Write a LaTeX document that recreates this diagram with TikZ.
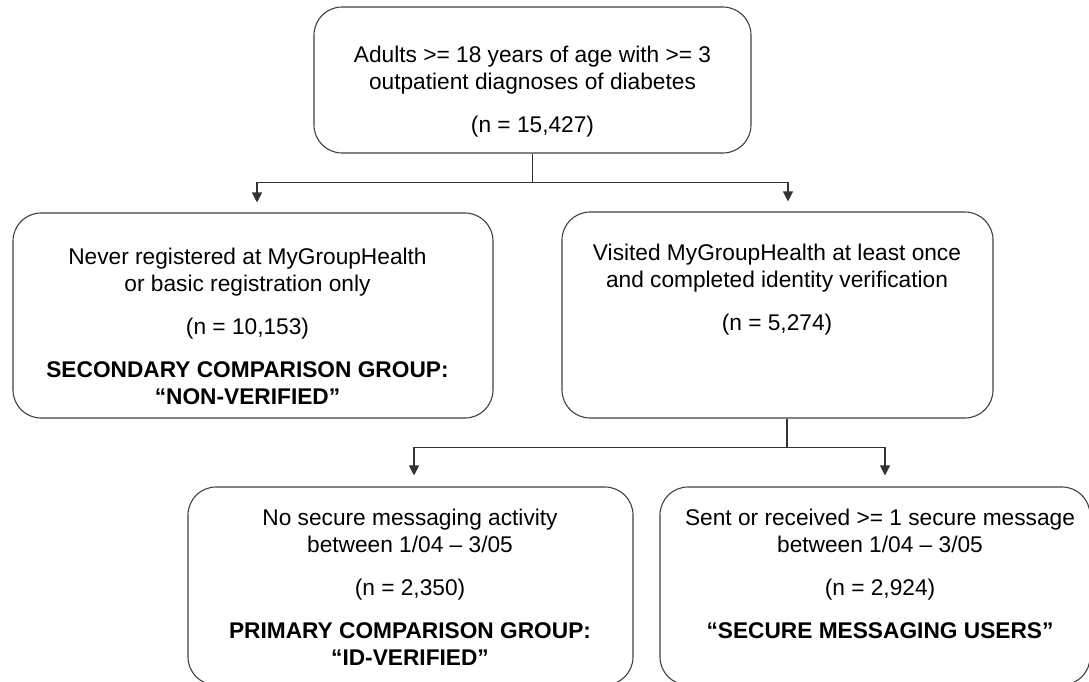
\documentclass[tikz,border=0pt]{standalone}
\usepackage{fontspec}
\setmainfont{Liberation Sans}
\usetikzlibrary{arrows.meta,positioning}
\begin{document}
\begin{tikzpicture}[x=1pt,y=-1pt,
    box/.style={draw=black!75,line width=1.1pt,rounded corners=28pt,inner sep=0pt},
    txt/.style={align=center,font=\fontsize{22.7}{27}\selectfont,inner sep=0pt,anchor=base},
    conn/.style={draw=black!80,line width=1.1pt},
    arr/.style={conn,-{Triangle[length=10pt,width=10pt]}}]
  \useasboundingbox (0,0) rectangle (1089,681);
  \clip (0,0) rectangle (1089,681);
  % boxes
  \node[box,minimum width=437pt,minimum height=146pt] (top) at (532.5,80) {};
  \node[box,minimum width=480pt,minimum height=205pt] (never) at (253,315.5) {};
  \node[box,minimum width=431pt,minimum height=206pt] (visited) at (777.5,315) {};
  \node[box,minimum width=445pt,minimum height=198pt] (nosecure) at (410.5,586) {};
  \node[box,minimum width=430pt,minimum height=198pt] (sent) at (875,586) {};
  % texts (anchored at the baseline of the last line)
  \node[txt] (toptxt) at (532.5,132)
    {Adults >= 18 years of age with >= 3\\ outpatient diagnoses of diabetes\\[16pt] (n = 15,427)};
  \node[txt] (nevertxt) at (247.5,404)
    {Never registered at MyGroupHealth\\ or basic registration only\\[16pt] (n = 10,153)\\[16pt]
     \textbf{SECONDARY COMPARISON GROUP:}\\ \textbf{“NON-VERIFIED”}};
  \node[txt] (visitedtxt) at (777,330)
    {Visited MyGroupHealth at least once\\ and completed identity verification\\[16pt] (n = 5,274)};
  \node[txt] (nosecuretxt) at (410,665)
    {No secure messaging activity\\ between 1/04 – 3/05\\[16pt] (n = 2,350)\\[16pt]
     \textbf{PRIMARY COMPARISON GROUP:}\\ \textbf{“ID-VERIFIED”}};
  \node[txt] (senttxt) at (880,638)
    {Sent or received >= 1 secure message\\ between 1/04 – 3/05\\[16pt] (n = 2,924)\\[16pt]
     \textbf{“SECURE MESSAGING USERS”}};
  % connectors
  \draw[conn] (top.south) -- ++(0,29) coordinate (split1);
  \draw[arr] (split1) -| ([xshift=4pt,yshift=10pt]never.north);
  \draw[arr] (split1) -| ([xshift=10.5pt,yshift=10pt]visited.north);
  \draw[conn] ([xshift=9.5pt]visited.south) -- ++(0,29) coordinate (split2);
  \draw[arr] (split2) -| ([xshift=3.5pt,yshift=11pt]nosecure.north);
  \draw[arr] (split2) -| ([xshift=10pt,yshift=11pt]sent.north);
\end{tikzpicture}
\end{document}
